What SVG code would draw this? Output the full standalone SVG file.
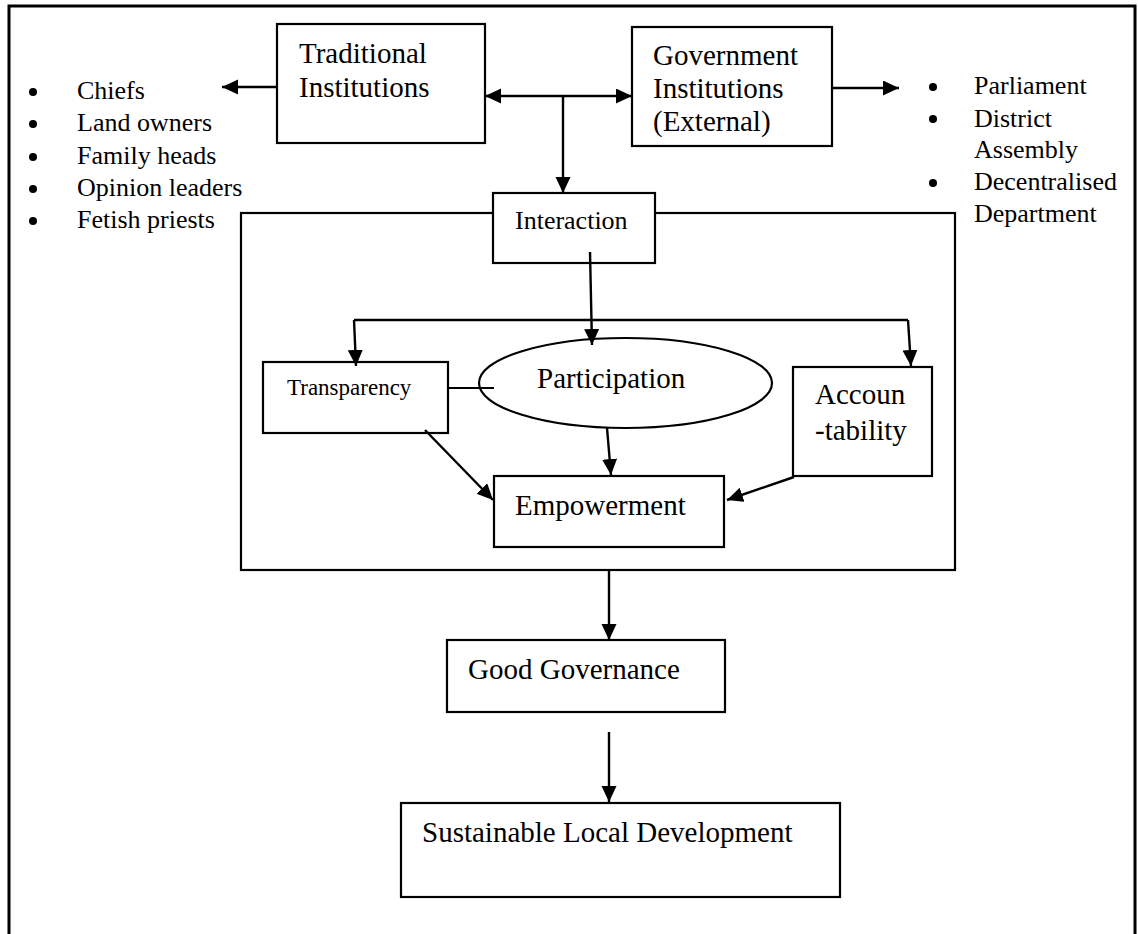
<svg xmlns="http://www.w3.org/2000/svg" width="1138" height="934" viewBox="0 0 1138 934">
<style>
  .box { fill: #fff; stroke: #000; stroke-width: 2.2; }
  .frame { fill: none; stroke: #000; stroke-width: 3; }
  .t { font-family: "Liberation Serif", "Times New Roman", serif; fill: #000; }
  .big { font-size: 29px; }
  .mid { font-size: 26px; }
  .sm { font-size: 23px; }
  .c { fill: none; stroke: #000; stroke-width: 2.4; }
  .a { marker-end: url(#ah); }
  .bullet { fill: #000; }
</style>
<defs>
  <marker id="ah" markerUnits="userSpaceOnUse" markerWidth="17" markerHeight="16" refX="16" refY="7.5" orient="auto-start-reverse" viewBox="0 0 17 16">
    <path d="M0,0 L16,7.5 L0,15 z" fill="#000"/>
  </marker>
</defs>
<rect width="1138" height="934" fill="#fff"/>
<rect class="frame" x="9" y="6" width="1126" height="945"/>

<g id="container">
  <rect class="frame" style="stroke-width:2.2" x="241" y="213" width="714" height="357"/>
</g>

<g id="traditional">
  <rect class="box" x="277" y="24" width="208" height="119"/>
  <text class="t big" x="299" y="63">Traditional</text>
  <text class="t big" x="299" y="97">Institutions</text>
</g>

<g id="traditional-list">
  <circle class="bullet" cx="33" cy="92" r="4"/>
  <circle class="bullet" cx="33" cy="124" r="4"/>
  <circle class="bullet" cx="33" cy="157" r="4"/>
  <circle class="bullet" cx="33" cy="189" r="4"/>
  <circle class="bullet" cx="33" cy="221" r="4"/>
  <text class="t mid" x="77" y="99">Chiefs</text>
  <text class="t mid" x="77" y="131">Land owners</text>
  <text class="t mid" x="77" y="164">Family heads</text>
  <text class="t mid" x="77" y="196">Opinion leaders</text>
  <text class="t mid" x="77" y="228">Fetish priests</text>
</g>

<g id="government">
  <rect class="box" x="632" y="27" width="200" height="119"/>
  <text class="t big" x="653" y="65">Government</text>
  <text class="t big" x="653" y="98">Institutions</text>
  <text class="t big" x="653" y="131">(External)</text>
</g>

<g id="government-list">
  <circle class="bullet" cx="933" cy="87" r="4"/>
  <circle class="bullet" cx="933" cy="119" r="4"/>
  <circle class="bullet" cx="933" cy="183" r="4"/>
  <text class="t mid" x="974" y="94">Parliament</text>
  <text class="t mid" x="974" y="127">District</text>
  <text class="t mid" x="974" y="158">Assembly</text>
  <text class="t mid" x="974" y="190">Decentralised</text>
  <text class="t mid" x="974" y="222">Department</text>
</g>

<g id="interaction">
  <rect class="box" x="493" y="193" width="162" height="70"/>
  <text class="t mid" x="515" y="229">Interaction</text>
</g>

<g id="transparency">
  <rect class="box" x="263" y="362" width="185" height="71"/>
  <text class="t sm" x="287" y="395">Transparency</text>
</g>

<g id="participation">
  <ellipse class="box" cx="625.5" cy="383" rx="146.5" ry="45"/>
  <text class="t big" x="537" y="388">Participation</text>
</g>

<g id="accountability">
  <rect class="box" x="793" y="367" width="139" height="109"/>
  <text class="t big" x="815" y="404">Accoun</text>
  <text class="t big" x="815" y="440">-tability</text>
</g>

<g id="empowerment">
  <rect class="box" x="494" y="476" width="230" height="71"/>
  <text class="t big" x="515" y="515">Empowerment</text>
</g>

<g id="good-governance">
  <rect class="box" x="447" y="640" width="278" height="72"/>
  <text class="t big" x="468" y="679">Good Governance</text>
</g>

<g id="sustainable">
  <rect class="box" x="401" y="803" width="439" height="94"/>
  <text class="t big" x="422" y="842">Sustainable Local Development</text>
</g>

<g id="connectors">
  <path class="c a" d="M277,87 L222,87"/>
  <path class="c a" style="marker-start:url(#ah)" d="M485,96 L632,96"/>
  <path class="c a" d="M563,96 L563,193"/>
  <path class="c a" d="M832,88 L899,88"/>
  <path class="c a" d="M590,252 L592,345"/>
  <path class="c" d="M354,320 L908,320"/>
  <path class="c a" d="M354,320 L356,366"/>
  <path class="c a" d="M908,320 L911,366"/>
  <path class="c" style="stroke-width:2" d="M448,388 L494,388"/>
  <path class="c a" d="M425,430 L493,500"/>
  <path class="c a" d="M607,428 L611,475"/>
  <path class="c a" d="M794,477 L727,500"/>
  <path class="c a" d="M609,570 L609,640"/>
  <path class="c a" d="M609,732 L609,802"/>
</g>
</svg>
